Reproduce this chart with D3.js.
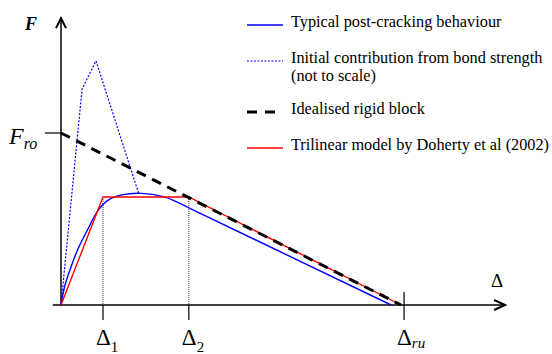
<!DOCTYPE html>
<html><head><meta charset="utf-8">
<script src="https://cdn.jsdelivr.net/npm/d3@7"></script>
<style>
html,body{margin:0;padding:0;background:#fff;}
</style></head>
<body><svg id="c" width="552" height="354"></svg>
<script>
// Data (displacement units: Δru = 100; force units: F_ro = 100)
const postCrackX = [0, 1.18, 3.15, 5.09, 8.03, 10.97, 13.9, 17.85, 23.7, 30.1, 35.0, 37.9];
const postCrackY = [0, 11.6, 23.3, 33.0, 44.6, 55.2, 61.0, 64.0, 64.9, 63.0, 59.1, 56.2];
const postCrackTailX = [37.9, 97.1];
const postCrackTailY = [56.2, 0];
const bondX = [0, 6.2, 10.3, 22.9];
const bondY = [0, 125.6, 141.9, 64.5];
const rigidX = [0, 100];
const rigidY = [100, 0];
const triX = [0, 12.35, 37.6, 100];
const triY = [0, 62.8, 62.8, 0];
const tickLabels = ["Δ", "Δ", "Δ"];
const tickSubs = ["1", "2", "ru"];
const tickValues = [12.35, 37.6, 100.9];
const legendLabels = ["Typical post-cracking behaviour", "Initial contribution from bond strength", "Idealised rigid block", "Trilinear model by Doherty et al (2002)"];
const legendExtra = "(not to scale)";

const FONT = "'Liberation Serif', 'Times New Roman', 'DejaVu Serif', serif";
const svg = d3.select("#c");
const x = d3.scaleLinear().domain([0, 100]).range([61, 401]);
const y = d3.scaleLinear().domain([0, 100]).range([305, 133]);

const zip = (a, b) => a.map((v, i) => [v, b[i]]);
const lin = d3.line().x(d => x(d[0])).y(d => y(d[1]));
const smooth = d3.line().x(d => x(d[0])).y(d => y(d[1])).curve(d3.curveCatmullRom.alpha(0.5));

// axes
svg.append("line").attr("x1", x(0)).attr("x2", x(0)).attr("y1", y(-0.5)).attr("y2", y(166.5))
  .attr("stroke", "#000").attr("stroke-width", 1.5);
svg.append("line").attr("x1", x(-2.4)).attr("x2", x(130.4)).attr("y1", y(0)).attr("y2", y(0))
  .attr("stroke", "#000").attr("stroke-width", 1.5);
// arrowheads
svg.append("path").attr("d", `M${x(0)-5},${y(161)} L${x(0)},${y(166.7)} L${x(0)+5},${y(161)}`)
  .attr("fill", "none").attr("stroke", "#000").attr("stroke-width", 2);
svg.append("path").attr("d", `M${x(127.4)},${y(0)-5} L${x(130.6)},${y(0)} L${x(127.4)},${y(0)+5}`)
  .attr("fill", "none").attr("stroke", "#000").attr("stroke-width", 2);

// F_ro tick
svg.append("line").attr("x1", x(-4.7)).attr("x2", x(0)).attr("y1", y(100)).attr("y2", y(100))
  .attr("stroke", "#000").attr("stroke-width", 1.2);

// delta ticks
tickValues.forEach((v, i) => {
  const isRu = i === 2;
  svg.append("line").attr("x1", x(v)).attr("x2", x(v))
    .attr("y1", isRu ? y(0) - 13 : y(0)).attr("y2", y(0) + 15)
    .attr("stroke", "#000").attr("stroke-width", 1.2);
  const t = svg.append("text").attr("x", x(v) - 7).attr("y", 345).attr("font-size", 23)
    .attr("font-family", FONT);
  t.append("tspan").text(tickLabels[i]);
  t.append("tspan").text(tickSubs[i]).attr("font-size", 15).attr("dy", isRu ? 3 : 7)
    .attr("font-style", isRu ? "italic" : "normal");
});

// dotted verticals at Δ1, Δ2
[0, 1].forEach(i => {
  svg.append("line").attr("x1", x(tickValues[i])).attr("x2", x(tickValues[i]))
    .attr("y1", y(triY[1])).attr("y2", y(0))
    .attr("stroke", "#000").attr("stroke-width", 0.8).attr("stroke-dasharray", "1,1");
});

// series
svg.append("path").attr("d", lin(zip(bondX, bondY))).attr("fill", "none")
  .attr("stroke", "#0000ff").attr("stroke-width", 1.2).attr("stroke-dasharray", "2,1.6");
svg.append("path").attr("d", smooth(zip(postCrackX, postCrackY))).attr("fill", "none")
  .attr("stroke", "#0000ff").attr("stroke-width", 1.4);
svg.append("path").attr("d", lin(zip(postCrackTailX, postCrackTailY))).attr("fill", "none")
  .attr("stroke", "#0000ff").attr("stroke-width", 1.4);
svg.append("path").attr("d", lin(zip(triX, triY))).attr("fill", "none")
  .attr("stroke", "#ff0000").attr("stroke-width", 1.4);
svg.append("path").attr("d", lin(zip(rigidX, rigidY))).attr("fill", "none")
  .attr("stroke", "#000").attr("stroke-width", 3).attr("stroke-dasharray", "10,7");

// axis labels
svg.append("text").attr("x", 25).attr("y", 30).attr("font-size", 18).attr("font-family", FONT)
  .attr("font-weight", "bold").attr("font-style", "italic").text("F");
const fro = svg.append("text").attr("x", 9).attr("y", 144).attr("font-size", 24)
  .attr("font-style", "italic").attr("font-family", FONT);
fro.append("tspan").text("F");
fro.append("tspan").text("ro").attr("font-size", 16).attr("dy", 5);
svg.append("text").attr("x", 491).attr("y", 287).attr("font-size", 19).attr("font-family", FONT).text("Δ");

// legend
const legY = [25, 61, 112, 148];
const legStyles = [
  {stroke: "#0000ff", w: 1.4, dash: null},
  {stroke: "#0000ff", w: 1.2, dash: "2,1.5"},
  {stroke: "#000", w: 3, dash: "10,8"},
  {stroke: "#ff0000", w: 1.4, dash: null}
];
legendLabels.forEach((lab, i) => {
  const s = legStyles[i];
  const l = svg.append("line").attr("x1", 247).attr("x2", 283).attr("y1", legY[i]).attr("y2", legY[i])
    .attr("stroke", s.stroke).attr("stroke-width", s.w);
  if (s.dash) l.attr("stroke-dasharray", s.dash);
  svg.append("text").attr("x", 291).attr("y", legY[i] + 2).attr("font-size", 16.3)
    .attr("font-family", FONT).text(lab);
});
svg.append("text").attr("x", 291).attr("y", 81).attr("font-size", 16.3).attr("font-family", FONT).text(legendExtra);
</script></body></html>
